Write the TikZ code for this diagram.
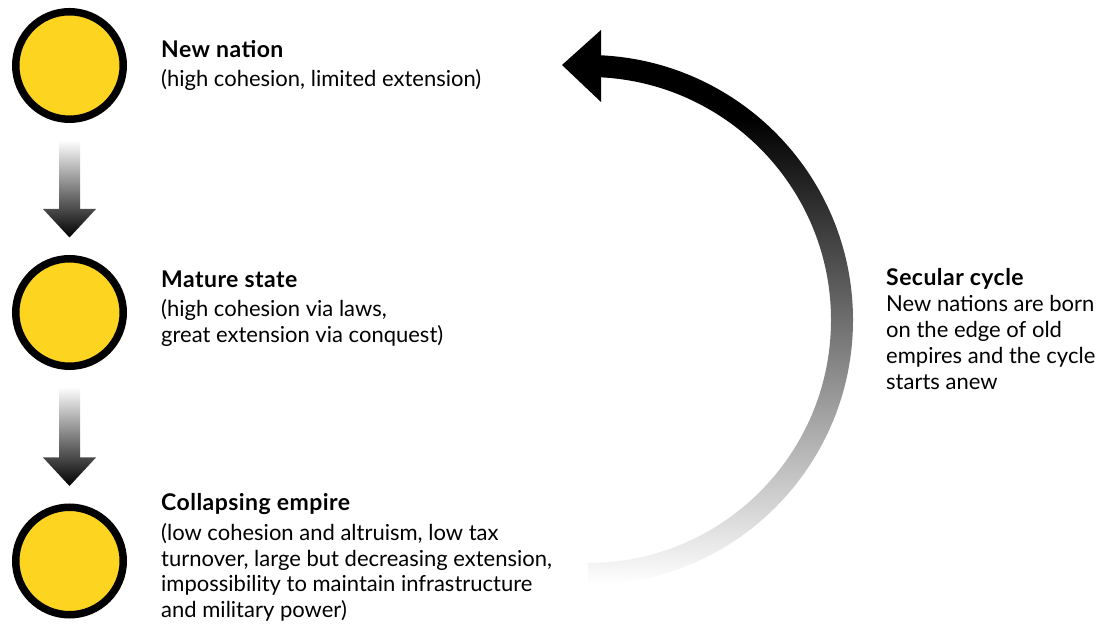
\documentclass[tikz,border=0pt]{standalone}
\usepackage{fontspec}
\setmainfont{Lato}
\usetikzlibrary{calc}

\definecolor{stateyellow}{RGB}{253,213,32}
\pgfdeclareverticalshading{cyclefade}{100bp}{color(0bp)=(white); color(25bp)=(white); color(69bp)=(black); color(100bp)=(black)}
\newcommand{\hd}[1]{{\fontsize{23}{26}\selectfont\bfseries\addfontfeatures{LetterSpace=2}#1}}

\begin{document}
\begin{tikzpicture}[
    x=1pt, y=1pt,
    stage/.style={circle, draw=black, fill=stateyellow, line width=7.5pt, minimum size=107.5pt, inner sep=0pt},
    txt/.style={anchor=base west, align=left, inner sep=0pt, font=\fontsize{22}{26}\selectfont},
    down/.style={top color=white, bottom color=black, draw=none}
]
\useasboundingbox (0,0) rectangle (1105,626);

% the three stages
\node[stage] (newc) at (69.5,560.5) {};
\node[stage] (maturec) at (69.5,313.5) {};
\node[stage] (collapsec) at (69.5,65) {};

% labels (anchored on the last line)
\node[txt] (newtxt) at (161,539) {\hd{New nation}\\[3pt](high cohesion, limited extension)};
\node[txt] (maturetxt) at (161,283) {\hd{Mature state}\\[3pt](high cohesion via laws,\\great extension via conquest)};
\node[txt] (collapsetxt) at (161,8) {\hd{Collapsing empire}\\[3pt](low cohesion and altruism, low tax\\turnover, large but decreasing extension,\\impossibility to maintain infrastructure\\and military power)};
\node[txt] (cycletxt) at (886,236) {\hd{Secular cycle}\\New nations are born\\on the edge of old\\empires and the cycle\\starts anew};

% arrows between stages
\shade[down] ($(newc.south)+(-10.5,-17)$) -- ($(maturec.north)+(-10.5,46)$) -- ($(maturec.north)+(-26.5,46)$)
    -- ($(maturec.north)+(0,17.5)$) -- ($(maturec.north)+(26.5,46)$) -- ($(maturec.north)+(10.5,46)$)
    -- ($(newc.south)+(10.5,-17)$) -- cycle;
\shade[down] ($(maturec.south)+(-10.5,-17)$) -- ($(collapsec.north)+(-10.5,46)$) -- ($(collapsec.north)+(-26.5,46)$)
    -- ($(collapsec.north)+(0,17.5)$) -- ($(collapsec.north)+(26.5,46)$) -- ($(collapsec.north)+(10.5,46)$)
    -- ($(maturec.south)+(10.5,-17)$) -- cycle;

% secular cycle arrow
\coordinate (cyc) at (588,306);
\shade[shading=cyclefade] ($(cyc)+(90:265)$) arc[start angle=90, end angle=-90, radius=265]
    -- ($(cyc)+(-90:243)$) arc[start angle=-90, end angle=90, radius=243] -- cycle;
\fill[black] ($(cyc)+(13,290)$) -- ($(cyc)+(-26,255)$) -- ($(cyc)+(13,218)$) -- cycle;

\end{tikzpicture}
\end{document}
